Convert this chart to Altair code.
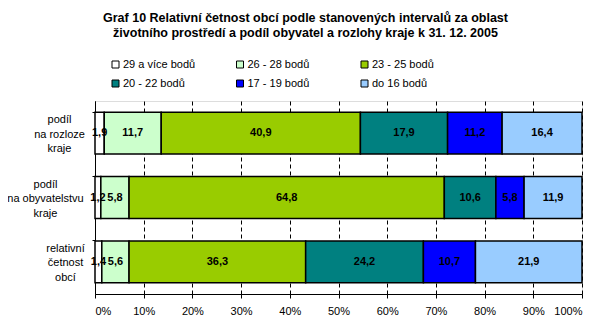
import altair as alt
import pandas as pd

categories = ["podíl|na rozloze|kraje", "podíl|na obyvatelstvu|kraje", "relativní|četnost|obcí"]
series = ["29 a více bodů", "26 - 28 bodů", "23 - 25 bodů", "20 - 22 bodů", "17 - 19 bodů", "do 16 bodů"]
colors = ["#FFFFFF", "#CCFFCC", "#99CC00", "#008080", "#0000FF", "#99CCFF"]
v_rozloha = [1.9, 11.7, 40.9, 17.9, 11.2, 16.4]
v_obyvatel = [1.2, 5.8, 64.8, 10.6, 5.8, 11.9]
v_obce = [1.4, 5.6, 36.3, 24.2, 10.7, 21.9]
title_lines = ["Graf 10 Relativní četnost obcí podle stanovených intervalů za oblast",
               "životního prostředí a podíl obyvatel a rozlohy kraje k 31. 12. 2005"]

rows = []
for cat, vals in zip(categories, [v_rozloha, v_obyvatel, v_obce]):
    for i, (s, v) in enumerate(zip(series, vals)):
        rows.append({"cat": cat, "series": s, "order": i, "value": v})
df = pd.DataFrame(rows)

FONT = "Liberation Sans"

base = alt.Chart(df).transform_stack(
    stack="value", as_=["v0", "v1"], groupby=["cat"], offset="normalize",
    sort=[alt.SortField("order", order="ascending")]
).transform_calculate(
    mid="(datum.v0 + datum.v1) / 2",
    lbl="replace(format(datum.value, '.1f'), '.', ',')"
)

yenc = alt.Y("cat:N", sort=categories, title=None,
             scale=alt.Scale(paddingInner=0.35, paddingOuter=0.175),
             axis=alt.Axis(
                 labelExpr="split(datum.label, '|')",
                 labelAlign="center", labelBaseline="middle",
                 labelFont=FONT, labelFontSize=11, labelColor="black",
                 labelLineHeight=14.5, labelOffset=-13,
                 labelPadding={"condition": [
                     {"test": "datum.value == 'podíl|na obyvatelstvu|kraje'", "value": 47},
                     {"test": "datum.value == 'relativní|četnost|obcí'", "value": 27}],
                     "value": 33},
                 bandPosition=0, tickSize=3, tickColor="black",
                 domainColor="black", domainWidth=1))

xenc = alt.X("v0:Q", title=None,
             scale=alt.Scale(domain=[0, 1], nice=False),
             axis=alt.Axis(format=".0%", values=[i / 10 for i in range(11)],
                           labelFont=FONT, labelFontSize=11, labelColor="black",
                           labelPadding=7, tickSize=4, tickColor="black",
                           domainColor="black", grid=True, gridColor="black",
                           gridDash=[4, 3], gridWidth=1, gridOpacity=1))

bars = base.mark_bar(stroke="black", strokeWidth=1.5).encode(
    y=yenc,
    x=xenc,
    x2="v1:Q",
    color=alt.Color("series:N", sort=series,
                    scale=alt.Scale(domain=series, range=colors),
                    legend=alt.Legend(title=None, orient="none", legendX=15, legendY=-42,
                                      columns=3, direction="horizontal",
                                      symbolType="square", symbolSize=49,
                                      symbolStrokeColor="black", symbolStrokeWidth=1,
                                      symbolOpacity=1,
                                      labelFont=FONT, labelFontSize=11, labelColor="black",
                                      labelOffset=2, columnPadding=38.5, rowPadding=7,
                                      gridAlign="all", padding=0)),
    order=alt.Order("order:Q")
)

texts = base.mark_text(font=FONT, fontSize=11, fontWeight="bold", color="black").encode(
    y=alt.Y("cat:N", sort=categories),
    x=alt.X("mid:Q"),
    text="lbl:N"
)

chart = alt.layer(bars, texts).properties(
    width=487, height=193,
    padding={"left": 87, "top": 93, "right": 14, "bottom": 26},
    autosize=alt.AutoSizeParams(type="none"),
    title=alt.TitleParams(title_lines, font=FONT, fontSize=12.5, fontWeight="bold",
                          color="black", anchor="middle", dx=-33, dy=-4, lineHeight=15,
                          offset=16)
).configure_view(stroke="black", strokeWidth=1).configure(background="white")

chart.save("out.html", embed_options={"renderer": "svg", "actions": False})
